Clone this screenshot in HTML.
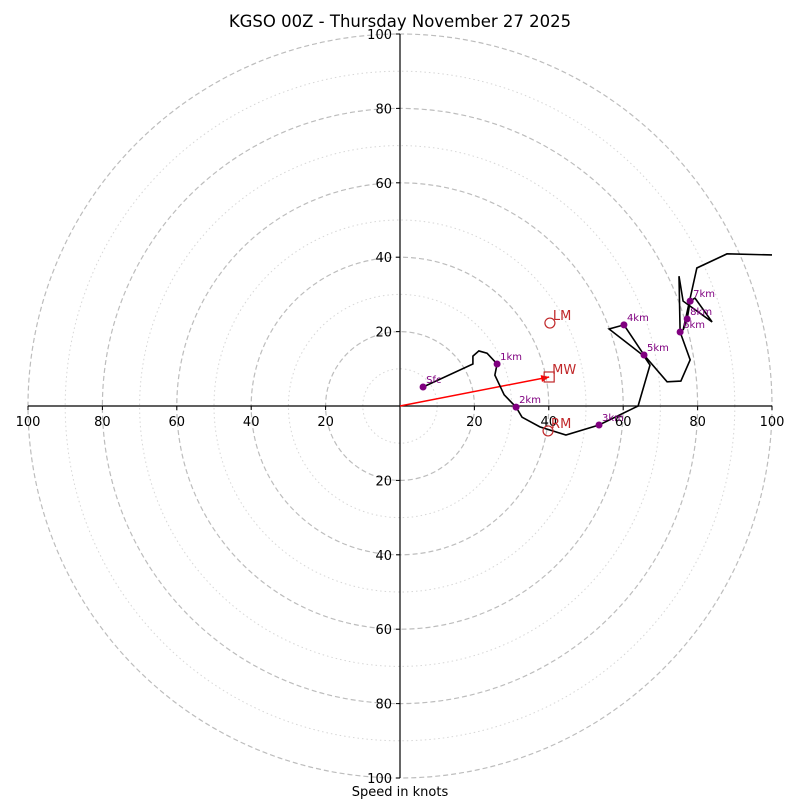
<!DOCTYPE html>
<html><head><meta charset="utf-8"><style>
body{margin:0;background:#fff;}
svg{display:block;font-family:"DejaVu Sans","Liberation Sans",sans-serif;}
</style></head><body>
<svg id="chart" width="800" height="800" viewBox="0 0 800 800">
<text x="400" y="27" text-anchor="middle" font-size="16.5">KGSO 00Z - Thursday November 27 2025</text>
<g id="rings"></g><g id="axes"></g><g id="plot"></g>
<text x="400" y="796" text-anchor="middle" font-size="13">Speed in knots</text>
</svg>
<script>
// hodograph wind profile (knots)
const profU=[6.2,19.6,19.6,21.2,23.4,26.1,25.5,28.0,31.2,32.8,37.6,44.6,53.5,64.0,67.2,65.6,56.2,60.2,65.6,71.8,75.5,78.0,75.3,75.0,76.1,83.9,79.3,78.0,77.2,76.1,79.8,87.9,100];
const profV=[5.1,11.3,13.4,14.8,14.2,11.3,8.3,3.0,-0.3,-3.0,-5.6,-7.8,-5.1,0,11.0,13.4,20.7,21.8,13.7,6.5,6.7,12.4,19.9,34.9,28.2,22.6,29.0,28.2,23.4,20.4,37.1,40.9,40.6];
const hgtLabels=["Sfc","1km","2km","3km","4km","5km","6km","7km","8km"];
const hgtU=[6.2,26.1,31.2,53.5,60.2,65.6,75.3,78.0,77.2];
const hgtV=[5.1,11.3,-0.3,-5.1,21.8,13.7,19.9,28.2,23.4];
const stormNames=["LM","MW","RM"];
const stormU=[40.3,40.1,39.8];
const stormV=[22.3,7.8,-6.7];
const ringVals=[10,20,30,40,50,60,70,80,90,100];
const tickVals=[20,40,60,80,100];

const NS="http://www.w3.org/2000/svg";
const cx=400,cy=406,S=3.72;
const X=u=>cx+u*S, Y=v=>cy-v*S;
function mk(tag,attrs,parent,txt){const e=document.createElementNS(NS,tag);for(const k in attrs)e.setAttribute(k,attrs[k]);if(txt!=null)e.textContent=txt;document.getElementById(parent).appendChild(e);return e;}

ringVals.forEach(r=>{
  const major=r%20===0;
  const c=mk('circle',{cx:cx,cy:cy,r:r*S,fill:'none',stroke:major?'#bdbdbd':'#d6d6d6','stroke-width':major?1.2:1,'stroke-dasharray':major?'5,3':'1.5,3'},'rings');
  
  
});
const ax1=mk('line',{x1:X(-100),y1:cy,x2:X(100),y2:cy,stroke:'#000','stroke-width':1.2},'axes');


const ax2=mk('line',{x1:cx,y1:Y(100),x2:cx,y2:Y(-100),stroke:'#000','stroke-width':1.2},'axes');


tickVals.forEach(t=>{
  [-1,1].forEach(sg=>{
    mk('line',{x1:X(sg*t),y1:cy,x2:X(sg*t),y2:cy+4,stroke:'#000'},'axes');
    const tx=mk('text',{x:X(sg*t),y:cy+20,'text-anchor':'middle','font-size':13},'axes',String(t));
    
    
    mk('line',{x1:cx-4,y1:Y(sg*t),x2:cx,y2:Y(sg*t),stroke:'#000'},'axes');
    const ty=mk('text',{x:cx-8,y:Y(sg*t)+5,'text-anchor':'end','font-size':13},'axes',String(t));
    
    
  });
});
// mean wind arrow
const mwx=X(stormU[1]),mwy=Y(stormV[1]);
const ang=Math.atan2(mwy-cy,mwx-cx);
const arr=mk('line',{x1:cx,y1:cy,x2:mwx,y2:mwy,stroke:'red','stroke-width':1.5},'plot');


const hx=mwx,hy=mwy,hl=8,hw=3.5;
mk('polygon',{points:`${hx},${hy} ${hx-hl*Math.cos(ang)+hw*Math.sin(ang)},${hy-hl*Math.sin(ang)-hw*Math.cos(ang)} ${hx-hl*Math.cos(ang)-hw*Math.sin(ang)},${hy-hl*Math.sin(ang)+hw*Math.cos(ang)}`,fill:'red'},'plot');
// profile
const line=mk('polyline',{points:profU.map((u,i)=>X(u)+','+Y(profV[i])).join(' '),fill:'none',stroke:'#000','stroke-width':1.6,'stroke-linejoin':'miter'},'plot');


hgtLabels.forEach((l,i)=>{
  const d=mk('circle',{cx:X(hgtU[i]),cy:Y(hgtV[i]),r:3.5,fill:'purple'},'plot');
  
  
  const t=mk('text',{x:X(hgtU[i])+3,y:Y(hgtV[i])-4,'font-size':10,fill:'purple'},'plot',l);
  
  
});
stormNames.forEach((n,i)=>{
  const x=X(stormU[i]),y=Y(stormV[i]);
  let m;
  if(n==='MW') m=mk('rect',{x:x-5,y:y-5,width:10,height:10,fill:'none',stroke:'#c0282a','stroke-width':1.2},'plot');
  else m=mk('circle',{cx:x,cy:y,r:5,fill:'none',stroke:'#c0282a','stroke-width':1.2},'plot');
  
  
  const t=mk('text',{x:x+3,y:y-3,'font-size':13,fill:'#c0282a'},'plot',n);
  
  
});
</script>
</body></html>
